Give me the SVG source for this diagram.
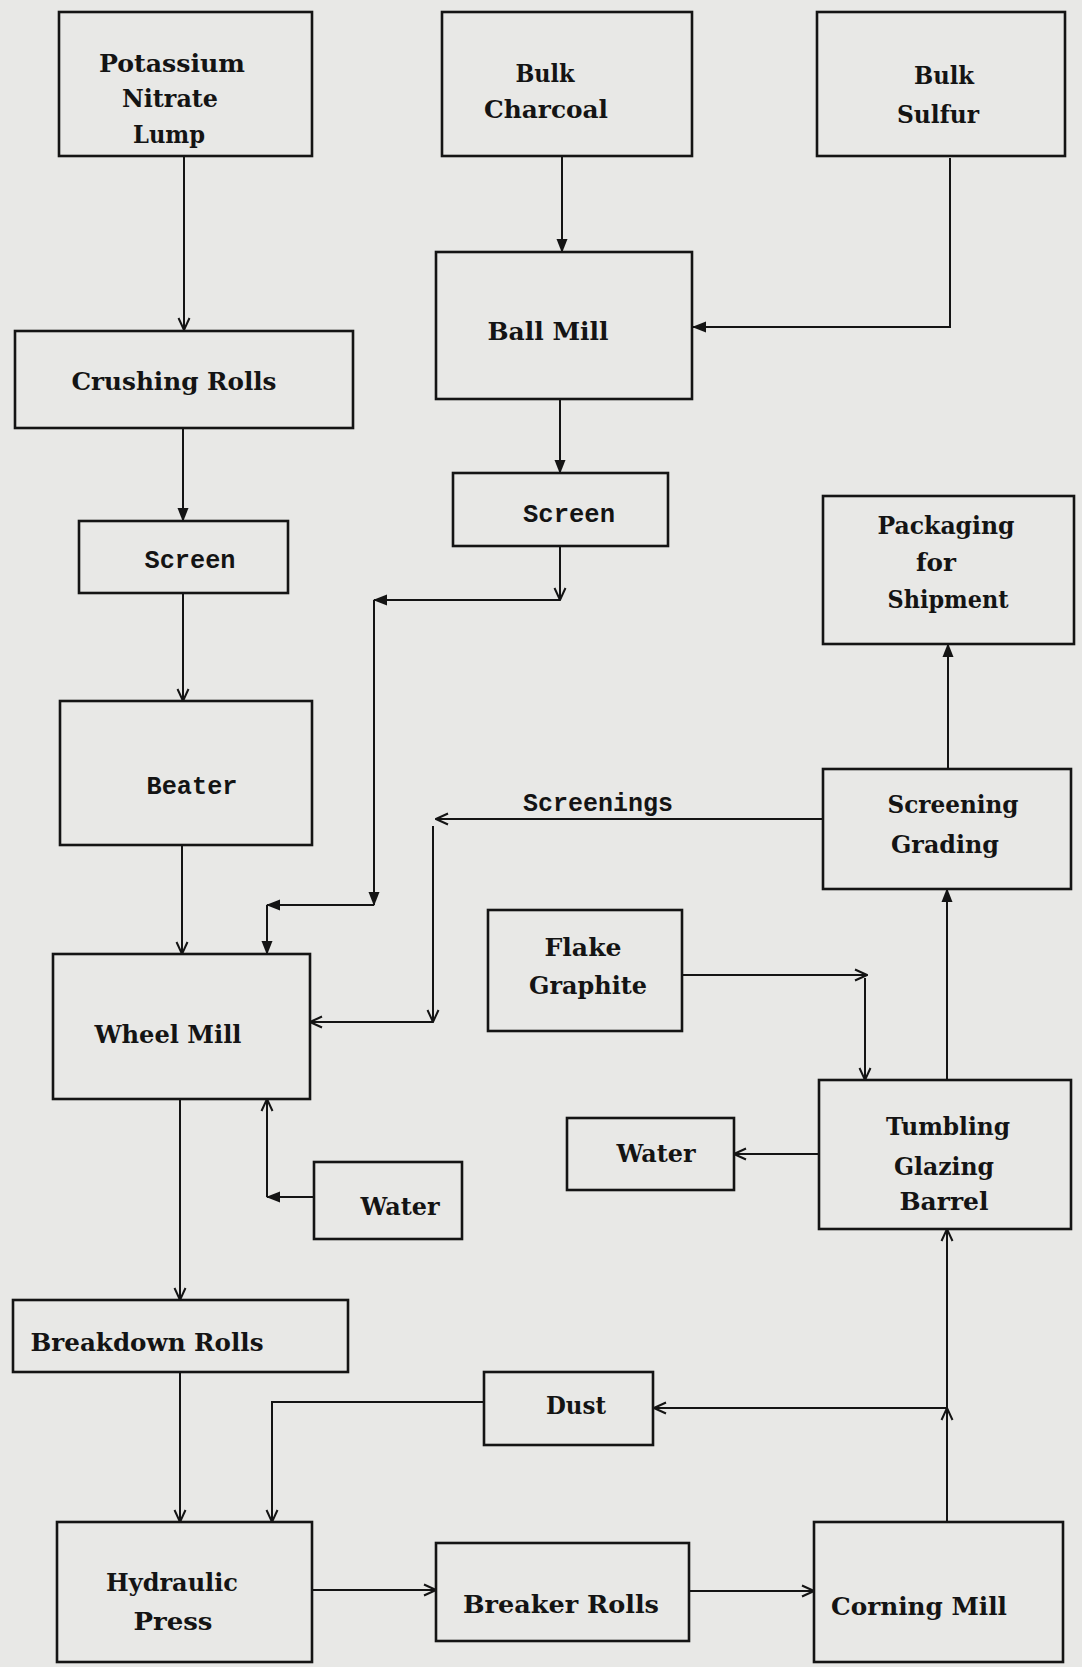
<svg xmlns="http://www.w3.org/2000/svg" width="1082" height="1667" viewBox="0 0 1082 1667">
<style>
.box{fill:none;stroke:#141414;stroke-width:2.6}
.t{font-family:"DejaVu Serif","Liberation Serif",serif;font-weight:bold;font-size:24px;fill:#141414;text-anchor:middle}
.m{font-family:"Liberation Mono","DejaVu Sans Mono",monospace;font-weight:bold;font-size:26px;fill:#141414;text-anchor:middle}
.c{fill:none;stroke:#141414;stroke-width:2}
.ca{marker-end:url(#open)}
.cf{marker-end:url(#fill)}
</style>
<defs>
<marker id="open" viewBox="0 0 14 14" markerWidth="14" markerHeight="14" refX="13" refY="7" orient="auto" markerUnits="userSpaceOnUse">
<path d="M1,1.5 L13,7 L1,12.5" fill="none" stroke="#141414" stroke-width="2"/>
</marker>
<marker id="fill" viewBox="0 0 14 14" markerWidth="14" markerHeight="14" refX="13" refY="7" orient="auto" markerUnits="userSpaceOnUse">
<path d="M0,1.5 L14,7 L0,12.5 Z" fill="#141414"/>
</marker>
</defs>
<rect x="0" y="0" width="1082" height="1667" fill="#e8e8e6"/>

<g id="connectors">
<path class="c ca" d="M184,157 V330"/>
<path class="c cf" d="M562,157 V252"/>
<path class="c cf" d="M950,158 V327 H693"/>
<path class="c cf" d="M183,429 V521"/>
<path class="c ca" d="M183,594 V701"/>
<path class="c cf" d="M560,400 V473"/>
<path class="c ca" d="M560,547 V600"/>
<path class="c cf" d="M560,600 H374"/>
<path class="c cf" d="M374,600 V905"/>
<path class="c cf" d="M374,905 H267"/>
<path class="c cf" d="M267,905 V954"/>
<path class="c ca" d="M182,846 V954"/>
<path class="c ca" d="M822,819 H436"/>
<path class="c ca" d="M433,826 V1022"/>
<path class="c ca" d="M433,1022 H310"/>
<path class="c cf" d="M314,1197 H267"/>
<path class="c ca" d="M267,1197 V1099"/>
<path class="c ca" d="M180,1100 V1300"/>
<path class="c ca" d="M180,1373 V1522"/>
<path class="c ca" d="M312,1590 H436"/>
<path class="c ca" d="M689,1591 H814"/>
<path class="c ca" d="M947,1522 V1408"/>
<path class="c ca" d="M947,1408 V1229"/>
<path class="c ca" d="M946,1408 H654"/>
<path class="c ca" d="M484,1402 H272 V1522"/>
<path class="c cf" d="M947,1080 V889"/>
<path class="c cf" d="M948,769 V644"/>
<path class="c ca" d="M682,975 H867"/>
<path class="c ca" d="M865,978 V1080"/>
<path class="c ca" d="M819,1154 H734"/>
</g>

<g id="potassium-nitrate">
<rect class="box" x="59" y="12" width="253" height="144"/>
<text class="t" x="172" y="72" textLength="146" lengthAdjust="spacingAndGlyphs">Potassium</text>
<text class="t" x="170" y="107" textLength="96" lengthAdjust="spacingAndGlyphs">Nitrate</text>
<text class="t" x="169" y="143" textLength="72" lengthAdjust="spacingAndGlyphs">Lump</text>
</g>
<g id="bulk-charcoal">
<rect class="box" x="442" y="12" width="250" height="144"/>
<text class="t" x="545" y="82" textLength="59" lengthAdjust="spacingAndGlyphs">Bulk</text>
<text class="t" x="546" y="118" textLength="124" lengthAdjust="spacingAndGlyphs">Charcoal</text>
</g>
<g id="bulk-sulfur">
<rect class="box" x="817" y="12" width="248" height="144"/>
<text class="t" x="944" y="84" textLength="60" lengthAdjust="spacingAndGlyphs">Bulk</text>
<text class="t" x="938" y="123" textLength="82" lengthAdjust="spacingAndGlyphs">Sulfur</text>
</g>
<g id="crushing-rolls">
<rect class="box" x="15" y="331" width="338" height="97"/>
<text class="t" x="174" y="390" textLength="205" lengthAdjust="spacingAndGlyphs">Crushing Rolls</text>
</g>
<g id="ball-mill">
<rect class="box" x="436" y="252" width="256" height="147"/>
<text class="t" x="548" y="340" textLength="121" lengthAdjust="spacingAndGlyphs">Ball Mill</text>
</g>
<g id="screen-left">
<rect class="box" x="79" y="521" width="209" height="72"/>
<text class="m" x="190" y="568" textLength="91" lengthAdjust="spacingAndGlyphs">Screen</text>
</g>
<g id="screen-middle">
<rect class="box" x="453" y="473" width="215" height="73"/>
<text class="m" x="569" y="522" textLength="92" lengthAdjust="spacingAndGlyphs">Screen</text>
</g>
<g id="packaging">
<rect class="box" x="823" y="496" width="251" height="148"/>
<text class="t" x="946" y="534" textLength="137" lengthAdjust="spacingAndGlyphs">Packaging</text>
<text class="t" x="936" y="571" textLength="40" lengthAdjust="spacingAndGlyphs">for</text>
<text class="t" x="948" y="608" textLength="121" lengthAdjust="spacingAndGlyphs">Shipment</text>
</g>
<g id="beater">
<rect class="box" x="60" y="701" width="252" height="144"/>
<text class="m" x="192" y="794" textLength="91" lengthAdjust="spacingAndGlyphs">Beater</text>
</g>
<g id="screenings-label">
<text class="m" x="598" y="811" textLength="150" lengthAdjust="spacingAndGlyphs">Screenings</text>
</g>
<g id="screening-grading">
<rect class="box" x="823" y="769" width="248" height="120"/>
<text class="t" x="953" y="813" textLength="131" lengthAdjust="spacingAndGlyphs">Screening</text>
<text class="t" x="945" y="853" textLength="108" lengthAdjust="spacingAndGlyphs">Grading</text>
</g>
<g id="flake-graphite">
<rect class="box" x="488" y="910" width="194" height="121"/>
<text class="t" x="583" y="956" textLength="77" lengthAdjust="spacingAndGlyphs">Flake</text>
<text class="t" x="588" y="994" textLength="118" lengthAdjust="spacingAndGlyphs">Graphite</text>
</g>
<g id="wheel-mill">
<rect class="box" x="53" y="954" width="257" height="145"/>
<text class="t" x="168" y="1043" textLength="147" lengthAdjust="spacingAndGlyphs">Wheel Mill</text>
</g>
<g id="tumbling-glazing-barrel">
<rect class="box" x="819" y="1080" width="252" height="149"/>
<text class="t" x="948" y="1135" textLength="124" lengthAdjust="spacingAndGlyphs">Tumbling</text>
<text class="t" x="944" y="1175" textLength="100" lengthAdjust="spacingAndGlyphs">Glazing</text>
<text class="t" x="944" y="1210" textLength="89" lengthAdjust="spacingAndGlyphs">Barrel</text>
</g>
<g id="water-right">
<rect class="box" x="567" y="1118" width="167" height="72"/>
<text class="t" x="656" y="1162" textLength="79" lengthAdjust="spacingAndGlyphs">Water</text>
</g>
<g id="water-left">
<rect class="box" x="314" y="1162" width="148" height="77"/>
<text class="t" x="400" y="1215" textLength="79" lengthAdjust="spacingAndGlyphs">Water</text>
</g>
<g id="breakdown-rolls">
<rect class="box" x="13" y="1300" width="335" height="72"/>
<text class="t" x="147" y="1351" textLength="233" lengthAdjust="spacingAndGlyphs">Breakdown Rolls</text>
</g>
<g id="dust">
<rect class="box" x="484" y="1372" width="169" height="73"/>
<text class="t" x="576" y="1414" textLength="60" lengthAdjust="spacingAndGlyphs">Dust</text>
</g>
<g id="hydraulic-press">
<rect class="box" x="57" y="1522" width="255" height="140"/>
<text class="t" x="172" y="1591" textLength="132" lengthAdjust="spacingAndGlyphs">Hydraulic</text>
<text class="t" x="173" y="1630" textLength="79" lengthAdjust="spacingAndGlyphs">Press</text>
</g>
<g id="breaker-rolls">
<rect class="box" x="436" y="1543" width="253" height="98"/>
<text class="t" x="561" y="1613" textLength="196" lengthAdjust="spacingAndGlyphs">Breaker Rolls</text>
</g>
<g id="corning-mill">
<rect class="box" x="814" y="1522" width="249" height="140"/>
<text class="t" x="919" y="1615" textLength="176" lengthAdjust="spacingAndGlyphs">Corning Mill</text>
</g>
</svg>
